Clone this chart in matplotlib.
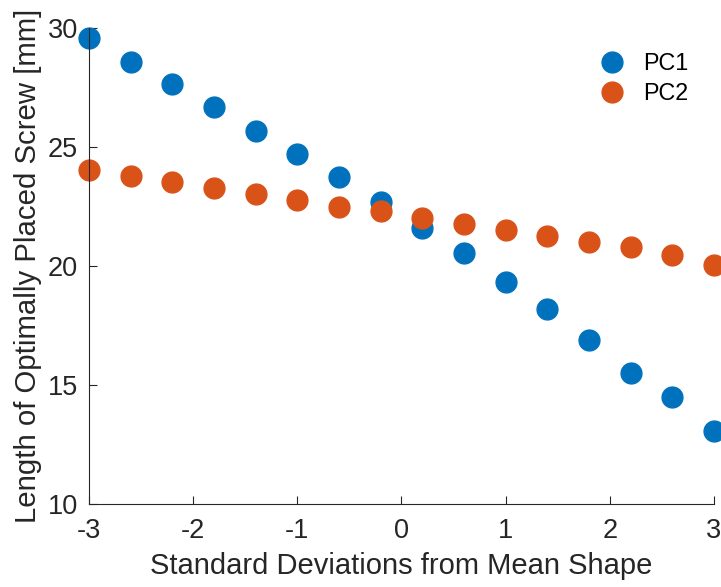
import matplotlib.pyplot as plt

plt.rcParams['font.family'] = ['Liberation Sans', 'DejaVu Sans']
plt.rcParams['axes.unicode_minus'] = False

# standard deviations from mean shape
sd = [-3.0, -2.6, -2.2, -1.8, -1.4, -1.0, -0.6, -0.2, 0.2, 0.6, 1.0, 1.4, 1.8, 2.2, 2.6, 3.0]
pc1 = [29.58, 28.57, 27.65, 26.68, 25.67, 24.71, 23.74, 22.69, 21.60, 20.55, 19.33, 18.19, 16.89, 15.50, 14.50, 13.07]
pc2 = [24.03, 23.78, 23.53, 23.28, 23.03, 22.77, 22.48, 22.31, 22.02, 21.76, 21.51, 21.26, 21.01, 20.80, 20.46, 20.04]

fig = plt.figure(figsize=(7.21, 5.87), dpi=100)
ax = fig.add_axes([0.1234, 0.1414, 0.8668, 0.8108])

ax.plot(sd, pc1, 'o', color='#0072BD', markersize=15, label='PC1', clip_on=False)
ax.plot(sd, pc2, 'o', color='#D95319', markersize=15, label='PC2', clip_on=False)

ax.set_xlim(-3, 3)
ax.set_ylim(10, 30)
ax.set_xticks([-3, -2, -1, 0, 1, 2, 3])
ax.set_yticks([10, 15, 20, 25, 30])

for s in ['top', 'right']:
    ax.spines[s].set_visible(False)
for s in ['left', 'bottom']:
    ax.spines[s].set_color('#262626')
    ax.spines[s].set_linewidth(0.8)
ax.tick_params(direction='in', length=6, width=0.8, colors='#262626', labelsize=19.5)
ax.tick_params(axis='x', pad=10)
ax.tick_params(axis='y', pad=8)

ax.set_xlabel('Standard Deviations from Mean Shape', fontsize=21, color='#262626', labelpad=6)
ax.set_ylabel('Length of Optimally Placed Screw [mm]', fontsize=21.2, color='#262626', labelpad=4)

ax.legend(loc='upper left', frameon=False, fontsize=16.8, handletextpad=0.35,
          labelspacing=0.3, borderpad=0, borderaxespad=0,
          bbox_to_anchor=(0.7995, 0.950))

fig.savefig('out.png', dpi=100)
